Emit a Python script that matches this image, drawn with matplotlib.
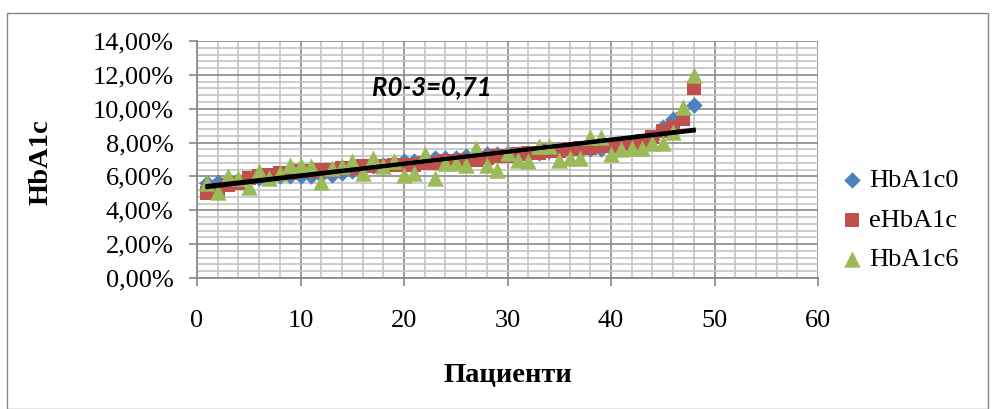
import matplotlib.pyplot as plt
import matplotlib.ticker as ticker
import numpy as np
from matplotlib.patches import Rectangle

# patients 1..48, sorted by baseline HbA1c
patients = list(range(1, 49))

hba1c0 = [5.6, 5.7, 5.8, 5.8, 5.9, 5.9, 6.0, 6.0, 6.0, 6.0, 6.0, 6.1,
          6.1, 6.2, 6.3, 6.5, 6.6, 6.7, 6.8, 6.9, 6.9, 7.0, 7.1, 7.1,
          7.1, 7.2, 7.2, 7.3, 7.3, 7.4, 7.3, 7.4, 7.4, 7.5, 7.4, 7.5,
          7.5, 7.6, 7.6, 7.7, 7.8, 7.9, 8.0, 8.2, 8.9, 9.4, 9.7, 10.2]

ehba1c = [5.0, 5.1, 5.5, 5.6, 5.9, 6.0, 6.1, 6.2, 6.2, 6.3, 6.3, 6.4,
          6.4, 6.5, 6.5, 6.6, 6.6, 6.6, 6.7, 6.7, 6.7, 6.8, 6.8, 6.9,
          6.9, 7.0, 7.0, 7.1, 7.2, 7.2, 7.3, 7.4, 7.4, 7.5, 7.5, 7.6,
          7.7, 7.7, 7.8, 7.8, 7.9, 8.0, 8.1, 8.3, 8.7, 8.9, 9.4, 11.2]

hba1c6 = [5.6, 5.1, 6.0, 5.9, 5.4, 6.3, 5.9, 6.2, 6.7, 6.7, 6.6, 5.7,
          6.5, 6.6, 6.9, 6.2, 7.1, 6.6, 6.9, 6.1, 6.2, 7.3, 5.9, 6.8,
          6.8, 6.7, 7.7, 6.7, 6.4, 7.4, 7.0, 6.9, 7.8, 7.8, 7.0, 7.1,
          7.1, 8.3, 8.3, 7.3, 7.6, 7.7, 7.7, 8.0, 8.0, 8.6, 10.1, 12.0]

series_names = ['HbA1c0', 'eHbA1c', 'HbA1c6']
annotation = 'R0-3=0,71'

plt.rcParams['font.family'] = ['Liberation Serif', 'DejaVu Serif']

fig = plt.figure(figsize=(9.92, 4.09), dpi=100)
ax = fig.add_axes([197 / 992, 1 - 278 / 409, 621 / 992, 237 / 409])

# outer chart border
fig.patches.append(Rectangle((7 / 992, 0.5 / 409), 981 / 992, 396 / 409,
                             transform=fig.transFigure, fill=False,
                             edgecolor='#868686', linewidth=1.0))

x = np.array(patients)
ax.scatter(x, hba1c0, marker='D', s=70, color='#4F81BD', zorder=3,
           linewidths=0, label=series_names[0])
ax.scatter(x, ehba1c, marker='s', s=105, color='#C0504D', zorder=4,
           linewidths=0, label=series_names[1])
ax.scatter(x, hba1c6, marker='^', s=140, color='#9BBB59', zorder=5,
           linewidths=0, label=series_names[2])

# linear trend lines
for ys in (hba1c0, ehba1c):
    k, b = np.polyfit(x, ys, 1)
    ax.plot([x[0], x[-1]], [k * x[0] + b, k * x[-1] + b], color='black',
            linewidth=2.8, zorder=6)

ax.set_xlim(0, 60)
ax.set_ylim(0, 14)
ax.xaxis.set_major_locator(ticker.MultipleLocator(10))
ax.xaxis.set_minor_locator(ticker.MultipleLocator(2))
ax.yaxis.set_major_locator(ticker.MultipleLocator(2))
ax.yaxis.set_minor_locator(ticker.MultipleLocator(0.4))
ax.yaxis.set_major_formatter(
    ticker.FuncFormatter(lambda v, p: f'{v:.2f}%'.replace('.', ',')))

ax.grid(which='major', color='#8a8a8a', linewidth=1.2, zorder=0)
ax.grid(which='minor', color='#c4c4c4', linewidth=1.2, zorder=0)
ax.set_axisbelow(True)

for side in ('top', 'right'):
    ax.spines[side].set_visible(False)
for side in ('left', 'bottom'):
    ax.spines[side].set_color('#868686')
    ax.spines[side].set_linewidth(1.2)

ax.tick_params(which='major', length=6, color='#868686', width=1.2,
               labelsize=19)
ax.tick_params(which='minor', length=0)
ax.tick_params(axis='y', pad=11)
ax.tick_params(axis='x', pad=17)

ax.set_xlabel('Пациенти', fontsize=20.5, fontweight='bold')
ax.xaxis.label.set_va('center')
ax.xaxis.set_label_coords(0.5, -0.41)
ax.set_ylabel('HbA1c', fontsize=20.5, fontweight='bold')
ax.yaxis.label.set_va('center')
ax.yaxis.set_label_coords(-0.252, 0.49)

ax.text(0.282, 0.806, annotation, transform=ax.transAxes, fontsize=18.5,
        fontweight='bold', fontstyle='italic', family=['Lato', 'DejaVu Sans'],
        va='center', ha='left', zorder=7)

ax.legend(loc='center left', bbox_to_anchor=(1.035, 0.245), frameon=False,
          fontsize=19, handletextpad=0.2, labelspacing=0.6,
          borderaxespad=0, borderpad=0, handlelength=0.9)

fig.savefig('out.png', dpi=100)
